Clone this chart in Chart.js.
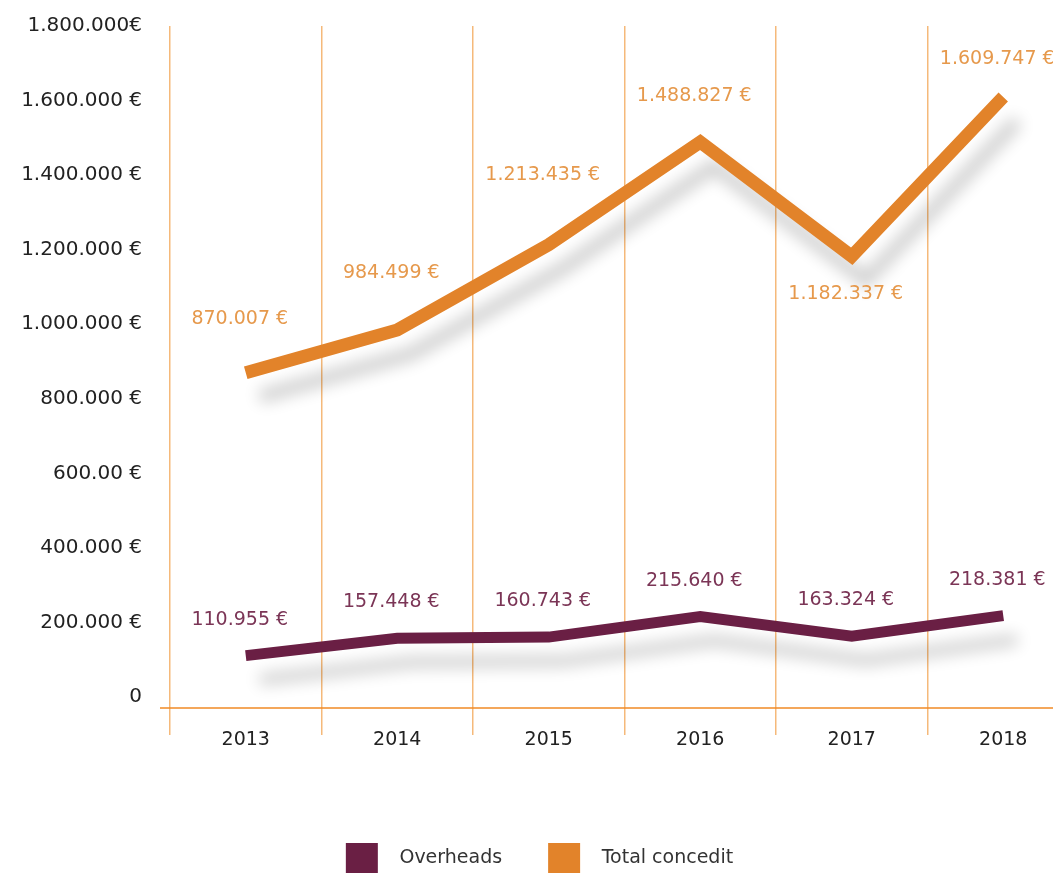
<!DOCTYPE html>
<html>
<head>
<meta charset="utf-8">
<title>Overheads / Total concedit</title>
<script src="https://cdn.jsdelivr.net/npm/chart.js@4/dist/chart.umd.min.js"></script>
<style>
  html, body { margin: 0; padding: 0; background: #fff; overflow: hidden; }
  #wrap { width: 1080px; height: 883px; }
</style>
</head>
<body>
<div id="wrap"><canvas id="chart" width="1080" height="883"></canvas></div>
<script>
// Years on the x axis
const years = ["2013", "2014", "2015", "2016", "2017", "2018"];

// Series values (euros)
const overheads = [110955, 157448, 160743, 215640, 163324, 218381];
const totalConcedit = [870007, 984499, 1213435, 1488827, 1182337, 1609747];

// Y axis ticks and their printed labels
const yTickValues = [0, 200000, 400000, 600000, 800000, 1000000, 1200000, 1400000, 1600000, 1800000];
const yTickLabels = ["0", "200.000 €", "400.000 €", "600.00 €", "800.000 €", "1.000.000 €",
                     "1.200.000 €", "1.400.000 €", "1.600.000 €", "1.800.000€"];

// Vertical offset of each value label from its point (px, negative = above)
const overheadLabelOffset = [-36, -36, -36, -36, -36, -36];
const totalLabelOffset = [-54, -57, -70, -46, 38, -38];

const ORANGE = "#e2832a";
const PURPLE = "#6a1f44";
const FONT = "'DejaVu Sans', sans-serif";

// 1234567 -> "1.234.567 €"
function euro(v) {
  return String(v).replace(/\B(?=(\d{3})+(?!\d))/g, ".") + " €";
}

// Soft drop shadow under each line
const lineShadow = {
  id: "lineShadow",
  beforeDatasetDraw(chart) {
    const ctx = chart.ctx;
    ctx.save();
    ctx.shadowColor = "rgba(0, 0, 0, 0.2)";
    ctx.shadowBlur = 16;
    ctx.shadowOffsetX = 14;
    ctx.shadowOffsetY = 24;
  },
  afterDatasetDraw(chart) {
    chart.ctx.restore();
  }
};

// Horizontal base line, slightly longer than the plot on the left
const baseLine = {
  id: "baseLine",
  beforeDatasetsDraw(chart) {
    const { ctx, chartArea } = chart;
    ctx.save();
    ctx.strokeStyle = "#f08a24";
    ctx.lineWidth = 1.5;
    ctx.beginPath();
    ctx.moveTo(chartArea.left - 10, chartArea.bottom);
    ctx.lineTo(chartArea.right, chartArea.bottom);
    ctx.stroke();
    ctx.restore();
  }
};

// Value labels next to every point
const valueLabels = {
  id: "valueLabels",
  afterDatasetsDraw(chart) {
    const ctx = chart.ctx;
    ctx.save();
    ctx.font = "19px " + FONT;
    ctx.textAlign = "center";
    ctx.textBaseline = "middle";
    chart.data.datasets.forEach((ds, i) => {
      const meta = chart.getDatasetMeta(i);
      meta.data.forEach((pt, j) => {
        ctx.fillStyle = ds.labelColor;
        ctx.fillText(euro(ds.data[j]), pt.x - 6, pt.y + ds.labelOffset[j]);
      });
    });
    ctx.restore();
  }
};

new Chart(document.getElementById("chart"), {
  type: "line",
  data: {
    labels: years,
    datasets: [
      {
        label: "Overheads",
        data: overheads,
        borderColor: PURPLE,
        backgroundColor: PURPLE,
        borderWidth: 11,
        labelColor: "#7b3556",
        labelOffset: overheadLabelOffset
      },
      {
        label: "Total concedit",
        data: totalConcedit,
        borderColor: ORANGE,
        backgroundColor: ORANGE,
        borderWidth: 13,
        labelColor: "#e6994c",
        labelOffset: totalLabelOffset
      }
    ]
  },
  options: {
    responsive: false,
    animation: false,
    clip: false,
    layout: { padding: { top: 26, right: 1, left: 0, bottom: 0 } },
    elements: {
      point: { radius: 0, hoverRadius: 0 },
      line: { tension: 0, borderJoinStyle: "miter", borderCapStyle: "butt", fill: false }
    },
    plugins: {
      tooltip: { enabled: false },
      legend: {
        position: "bottom",
        labels: {
          boxWidth: 32,
          boxHeight: 30,
          padding: 46,
          color: "#333",
          font: { family: FONT, size: 19 },
          generateLabels(chart) {
            // two leading spaces widen the gap between swatch and text
            return chart.data.datasets.map((ds, i) => ({
              text: "  " + ds.label,
              fillStyle: ds.borderColor,
              strokeStyle: ds.borderColor,
              lineWidth: 0,
              fontColor: "#333",
              datasetIndex: i
            }));
          }
        }
      }
    },
    scales: {
      x: {
        offset: true,
        grid: { offset: true, color: "#f5b97a", lineWidth: 1.5, tickLength: 27, drawTicks: true },
        border: { display: false },
        ticks: { color: "#222", padding: -6, font: { family: FONT, size: 19 } },
        afterFit(scale) { scale.height = 89; }
      },
      y: {
        min: -29500,
        max: 1800000,
        grid: { display: false, drawTicks: false },
        border: { display: false },
        afterBuildTicks(scale) {
          scale.ticks = yTickValues.map(v => ({ value: v }));
        },
        ticks: {
          color: "#222",
          padding: 28,
          font: { family: FONT, size: 20 },
          callback: (value, index) => yTickLabels[index]
        },
        afterFit(scale) {
          scale.width = 170;
          // the top label may sit on the plot edge, no extra room needed
          scale.paddingTop = 0;
          scale.paddingBottom = 0;
        }
      }
    }
  },
  plugins: [lineShadow, baseLine, valueLabels]
});
</script>
</body>
</html>
